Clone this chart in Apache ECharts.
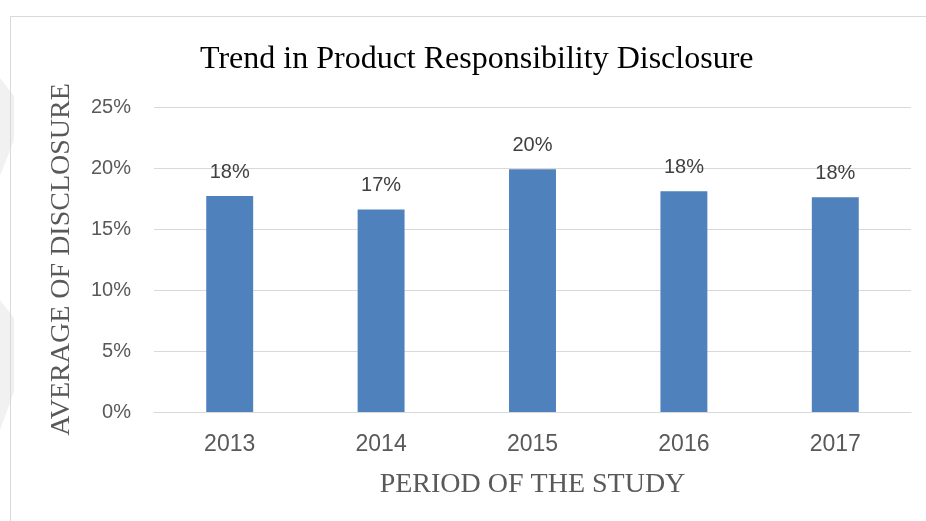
<!DOCTYPE html>
<html>
<head>
<meta charset="utf-8">
<style>
  html, body { margin: 0; padding: 0; background: #ffffff; }
  #chart { width: 926px; height: 521px; }
</style>
<script src="https://cdn.jsdelivr.net/npm/echarts@6/dist/echarts.min.js"></script>
</head>
<body>
<div id="chart"></div>
<script>
// Average product responsibility disclosure per year (percent)
var years = ['2013', '2014', '2015', '2016', '2017'];
var disclosure = [17.7, 16.6, 19.9, 18.1, 17.6];
var yTicks = [0, 5, 10, 15, 20, 25];

var chart = echarts.init(document.getElementById('chart'), null, { renderer: 'canvas' });

var serif = '"Liberation Serif", "Times New Roman", serif';
var sans = '"Liberation Sans", Arial, sans-serif';

chart.setOption({
  animation: false,
  backgroundColor: '#ffffff',
  title: {
    text: 'Trend in Product Responsibility Disclosure',
    left: 195,
    top: 39,
    textStyle: { fontFamily: serif, fontSize: 32, fontWeight: 'normal', color: '#000000' }
  },
  graphic: [
    // faint marks along the left edge
    { type: 'polygon', shape: { points: [[0, 78], [14, 96], [14, 140], [0, 176]] }, style: { fill: '#f1f1f1' }, z: -1 },
    { type: 'polygon', shape: { points: [[0, 300], [14, 318], [14, 392], [0, 430]] }, style: { fill: '#f1f1f1' }, z: -1 },
    // chart frame
    { type: 'rect', shape: { x: 10.5, y: 16.5, width: 1000, height: 1000 }, style: { fill: 'none', stroke: '#d9d9d9', lineWidth: 1 }, z: 0 }
  ],
  grid: { left: 154, right: 15, top: 107, bottom: 109, containLabel: false },
  xAxis: {
    type: 'category',
    data: years,
    name: 'PERIOD OF THE STUDY',
    nameLocation: 'middle',
    nameGap: 59,
    nameTextStyle: { fontFamily: serif, fontSize: 28, color: '#595959' },
    axisLine: { show: true, lineStyle: { color: '#d9d9d9', width: 1 } },
    axisTick: { show: false },
    axisLabel: { fontFamily: sans, fontSize: 23, color: '#595959', margin: 21 }
  },
  yAxis: {
    type: 'value',
    min: yTicks[0],
    max: yTicks[yTicks.length - 1],
    interval: yTicks[1] - yTicks[0],
    name: 'AVERAGE OF DISCLOSURE',
    nameLocation: 'middle',
    nameGap: 78,
    nameTextStyle: { fontFamily: serif, fontSize: 28, color: '#595959' },
    axisLine: { show: false },
    axisTick: { show: false },
    splitLine: { lineStyle: { color: '#d9d9d9', width: 1 } },
    axisLabel: {
      fontFamily: sans, fontSize: 20, color: '#595959', margin: 23,
      formatter: function (v) { return v + '%'; }
    }
  },
  series: [{
    type: 'bar',
    data: disclosure,
    barWidth: '31%',
    itemStyle: { color: '#4f81bd' },
    label: {
      show: true,
      position: 'top',
      distance: 14,
      fontFamily: sans,
      fontSize: 20,
      color: '#404040',
      formatter: function (p) { return Math.round(p.value) + '%'; }
    }
  }]
});
</script>
</body>
</html>
